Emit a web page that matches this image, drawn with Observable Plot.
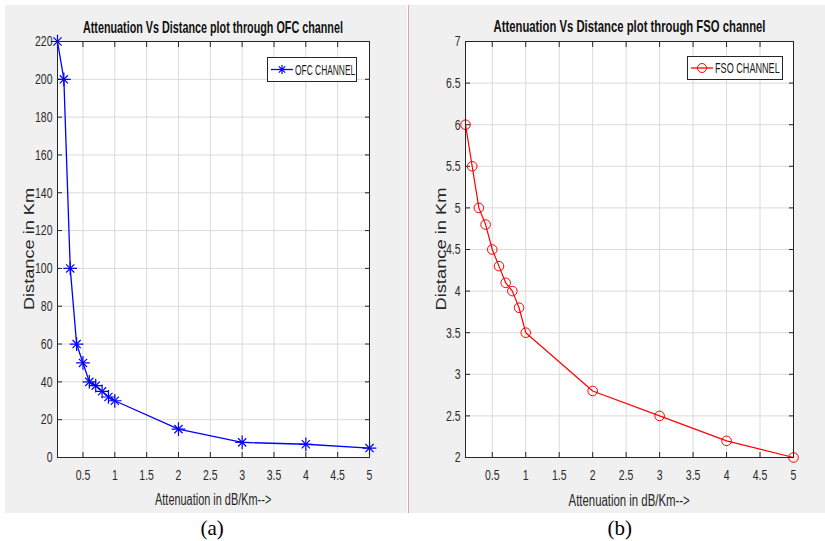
<!DOCTYPE html>
<html>
<head>
<meta charset="utf-8">
<script src="https://cdn.jsdelivr.net/npm/d3@7"></script>
<script src="https://cdn.jsdelivr.net/npm/@observablehq/plot@0.6"></script>
<style>
  html, body { margin: 0; padding: 0; background: #ffffff; }
  #root { position: relative; width: 825px; height: 541px; overflow: hidden; background: #ffffff; }
  .panel { position: absolute; background: #f0f0f0; }
  .abs { position: absolute; white-space: nowrap; transform-origin: 50% 50%; line-height: 1; }
  .title { font-family: "Liberation Sans", Arial, sans-serif; font-weight: bold; font-size: 17px; color: #111111; }
  .xlab { font-family: "Liberation Sans", Arial, sans-serif; font-size: 16px; color: #262626; }
  .ylab { font-family: "Liberation Sans", Arial, sans-serif; font-size: 14px; color: #262626; }
  .cap { font-family: "Liberation Serif", "Times New Roman", serif; font-size: 21px; color: #000; }
  .legend { position: absolute; background: #ffffff; border: 1px solid #262626; box-sizing: border-box; }
  .legtext { position: absolute; font-family: "Liberation Sans", Arial, sans-serif; font-size: 14px; color: #1a1a1a; white-space: nowrap; transform-origin: 0 50%; line-height: 1; }
  svg.plot { position: absolute; top: 0; }
</style>
</head>
<body>
<div id="root">
  <div class="panel" style="left:5px; top:5px; width:402px; height:508px;"></div>
  <div class="panel" style="left:409px; top:5px; width:416px; height:508px;"></div>
  <div style="position:absolute; left:407.5px; top:5px; width:1.5px; height:508px; background:#d9a3bd;"></div>
</div>
<script>
// ---------------- data ----------------
const attenuation = [0.1, 0.2, 0.3, 0.4, 0.5, 0.6, 0.7, 0.8, 0.9, 1, 2, 3, 4, 5];
const ofcDistance = [220, 200, 100, 60, 50, 40, 38, 35, 32, 30, 15, 8, 7, 5];
const fsoDistance = [6, 5.5, 5, 4.8, 4.5, 4.3, 4.1, 4.0, 3.8, 3.5, 2.8, 2.5, 2.2, 2.0];
const xTicks = [0.5, 1, 1.5, 2, 2.5, 3, 3.5, 4, 4.5, 5];
const ofcYTicks = [0, 20, 40, 60, 80, 100, 120, 140, 160, 180, 200, 220];
const fsoYTicks = [2, 2.5, 3, 3.5, 4, 4.5, 5, 5.5, 6, 6.5, 7];
const titles = ["Attenuation Vs Distance plot through OFC channel", "Attenuation Vs Distance plot through FSO channel"];
const xLabel = "Attenuation in dB/Km-->";
const yLabel = "Distance in Km";
const legendLabels = ["OFC CHANNEL", "FSO CHANNEL"];
const captions = ["(a)", "(b)"];

const ofcData = attenuation.map((a, i) => ({a, d: ofcDistance[i]}));
const fsoData = attenuation.map((a, i) => ({a, d: fsoDistance[i]}));

const root = document.getElementById("root");
const SX = 0.7; // horizontal squeeze of the original picture

function axisMarks(yTicks) {
  const common = {stroke: "#262626", fill: "#2b2b2b", label: null};
  return [
    Plot.frame({fill: "#ffffff"}),
    Plot.gridX(xTicks, {stroke: "#dadada", strokeOpacity: 1, strokeWidth: 1}),
    Plot.gridY(yTicks, {stroke: "#dadada", strokeOpacity: 1, strokeWidth: 1}),
    Plot.axisX(xTicks, {...common, anchor: "bottom", tickSize: -5, tickPadding: 17, tickFormat: d => String(d)}),
    Plot.axisX(xTicks, {...common, anchor: "top", tickSize: -5, tickFormat: () => ""}),
    Plot.axisY(yTicks, {...common, anchor: "left", tickSize: -5, tickPadding: 10, tickFormat: d => String(d)}),
    Plot.axisY(yTicks, {...common, anchor: "right", tickSize: -5, tickFormat: () => ""})
  ];
}

function makePlot(cfg) {
  const p = Plot.plot({
    width: cfg.width, height: 520,
    marginLeft: cfg.ml, marginRight: cfg.mr, marginTop: 41, marginBottom: 63,
    style: {background: "transparent", fontFamily: "'Liberation Sans', Arial, sans-serif", fontSize: "15px", overflow: "visible"},
    x: {domain: [0.1, 5]},
    y: {domain: cfg.yDomain},
    marks: [
      ...axisMarks(cfg.yTicks),
      ...cfg.marks,
      Plot.frame({stroke: "#262626", strokeWidth: 1})
    ]
  });
  p.classList.add("plot");
  p.style.left = cfg.left + "px";
  root.appendChild(p);
  // squeeze tick labels horizontally like the original
  p.querySelectorAll('g[aria-label$="tick label"] text').forEach(t => {
    const tr = t.getAttribute("transform") || "";
    t.setAttribute("transform", tr + ` scale(${SX},1)`);
  });
  return p;
}

makePlot({
  left: 0, width: 412, ml: 57, mr: 43, yDomain: [0, 220], yTicks: ofcYTicks,
  marks: [
    Plot.line(ofcData, {x: "a", y: "d", stroke: "#0000ff", strokeWidth: 1.3}),
    Plot.dot(ofcData, {x: "a", y: "d", symbol: "plus", r: 4.5, stroke: "#0000ff", strokeWidth: 1.2}),
    Plot.dot(ofcData, {x: "a", y: "d", symbol: "times", r: 3.8, stroke: "#0000ff", strokeWidth: 1.2})
  ]
});

makePlot({
  left: 412, width: 413, ml: 53, mr: 32, yDomain: [2, 7], yTicks: fsoYTicks,
  marks: [
    Plot.line(fsoData, {x: "a", y: "d", stroke: "#ff0000", strokeWidth: 1.2}),
    Plot.dot(fsoData, {x: "a", y: "d", symbol: "circle", r: 4.8, stroke: "#ff0000", strokeWidth: 1, fill: "none"})
  ]
});

// ---------------- text helpers ----------------
function placeText(txt, cls, cx, cy, targetW, rotate) {
  const el = document.createElement("div");
  el.className = "abs " + cls;
  el.textContent = txt;
  root.appendChild(el);
  const w = el.offsetWidth, h = el.offsetHeight;
  el.style.left = (cx - w / 2) + "px";
  el.style.top = (cy - h / 2) + "px";
  const s = targetW ? targetW / w : 1;
  el.style.transform = (rotate ? "rotate(-90deg) " : "") + `scaleX(${s})`;
  return el;
}

placeText(titles[0], "title", 213, 27, 260);
placeText(titles[1], "title", 629, 26, 272);
placeText(xLabel, "xlab", 213, 500, 116);
placeText(xLabel, "xlab", 629, 501, 121);
placeText(yLabel, "ylab", 29, 249, 122, true);
placeText(yLabel, "ylab", 441, 249, 123, true);
placeText(captions[0], "cap", 212, 528, null);
placeText(captions[1], "cap", 620, 528, null);

// ---------------- legends ----------------
function legend(box, label, color, kind, textW) {
  const div = document.createElement("div");
  div.className = "legend";
  Object.assign(div.style, {left: box.x + "px", top: box.y + "px", width: box.w + "px", height: box.h + "px"});
  root.appendChild(div);
  const ns = "http://www.w3.org/2000/svg";
  const svg = document.createElementNS(ns, "svg");
  svg.setAttribute("width", 26); svg.setAttribute("height", box.h - 2);
  Object.assign(svg.style, {position: "absolute", left: "2px", top: "0px"});
  const cy = (box.h - 2) / 2;
  const line = document.createElementNS(ns, "line");
  line.setAttribute("x1", 1); line.setAttribute("x2", 23); line.setAttribute("y1", cy); line.setAttribute("y2", cy);
  line.setAttribute("stroke", color); line.setAttribute("stroke-width", 1.3);
  svg.appendChild(line);
  if (kind === "star") {
    const g = document.createElementNS(ns, "path");
    const r = 4.5, q = 3.2;
    g.setAttribute("d", `M12,${cy - r}V${cy + r}M${12 - r},${cy}H${12 + r}M${12 - q},${cy - q}L${12 + q},${cy + q}M${12 - q},${cy + q}L${12 + q},${cy - q}`);
    g.setAttribute("stroke", color); g.setAttribute("stroke-width", 1.2); g.setAttribute("fill", "none");
    svg.appendChild(g);
  } else {
    const c = document.createElementNS(ns, "circle");
    c.setAttribute("cx", 12); c.setAttribute("cy", cy); c.setAttribute("r", 4.5);
    c.setAttribute("stroke", color); c.setAttribute("fill", "none"); c.setAttribute("stroke-width", 1);
    svg.appendChild(c);
  }
  div.appendChild(svg);
  const t = document.createElement("div");
  t.className = "legtext";
  t.textContent = label;
  div.appendChild(t);
  const w = t.offsetWidth, h = t.offsetHeight;
  t.style.left = "27px";
  t.style.top = ((box.h - 2) / 2 - h / 2) + "px";
  t.style.transform = `scaleX(${textW / w})`;
}

legend({x: 267, y: 57, w: 90, h: 25}, legendLabels[0], "#0000ff", "star", 60);
legend({x: 687, y: 56, w: 96, h: 24}, legendLabels[1], "#ff0000", "circle", 65);
</script>
</body>
</html>
